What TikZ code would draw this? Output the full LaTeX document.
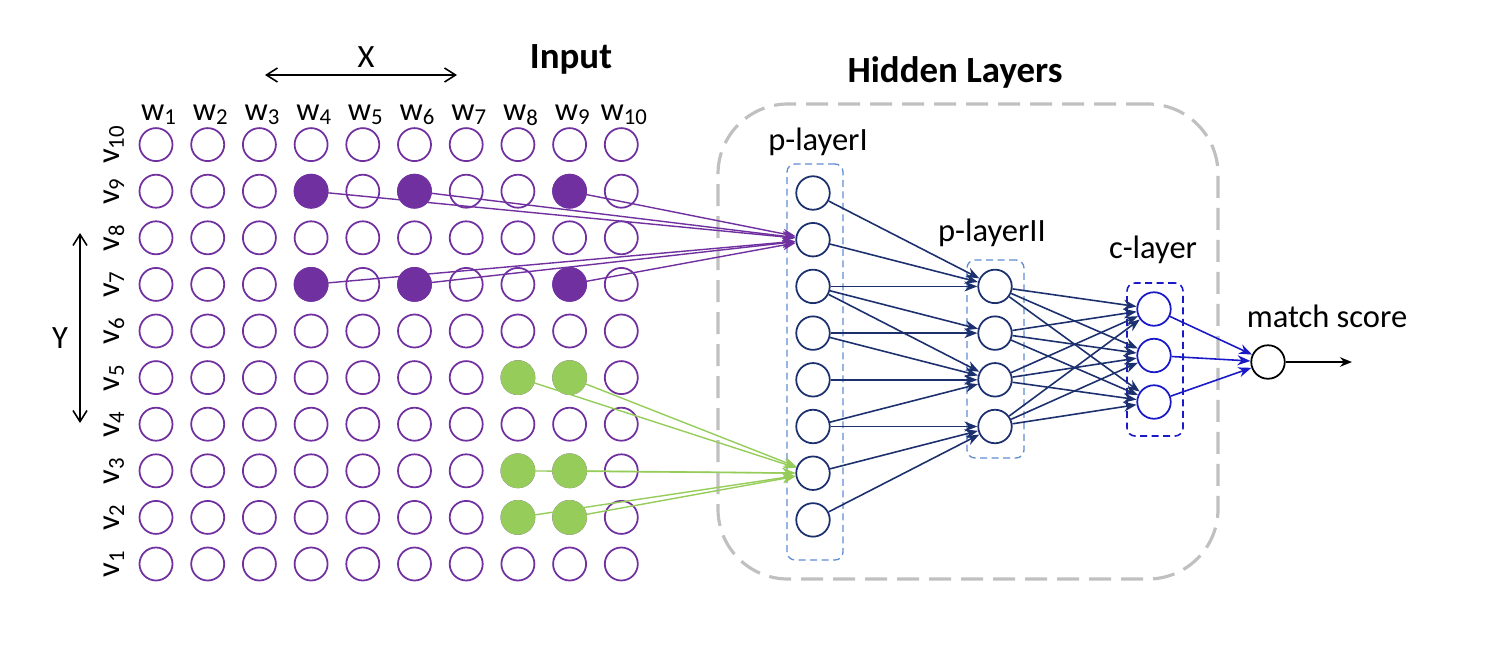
\documentclass[tikz,border=0pt]{standalone}
\usepackage{fontspec}
\setmainfont{Carlito}
\usetikzlibrary{positioning, arrows.meta, calc}

\definecolor{gridpurple}{RGB}{112,48,160}
\definecolor{hitgreen}{RGB}{150,205,90}
\definecolor{netnavy}{RGB}{28,48,110}
\definecolor{cblue}{RGB}{25,25,200}
\definecolor{boxblue}{RGB}{95,140,210}
\definecolor{hidgray}{RGB}{192,192,192}

\begin{document}
\begin{tikzpicture}[x=0.2mm, y=-0.2mm,
  font=\fontsize{18.5}{22}\selectfont,
  titlefont/.style={font=\fontsize{21}{24}\selectfont\bfseries},
  cell/.style={circle, draw=gridpurple, line width=1pt, minimum size=6.6mm, inner sep=0pt},
  hotcell/.style={cell, fill=gridpurple},
  greencell/.style={cell, draw=hitgreen, fill=hitgreen},
  unit/.style={circle, draw=netnavy, line width=1pt, minimum size=6.7mm, inner sep=0pt},
  cunit/.style={unit, draw=cblue},
  outunit/.style={unit, draw=black},
  layerbox/.style={draw=boxblue, line width=0.75pt, dash pattern=on 1.4mm off 0.9mm,
    rounded corners=1.6mm, inner sep=0pt},
  clayerbox/.style={layerbox, draw=cblue, line width=0.9pt},
  hidbox/.style={draw=hidgray, line width=1.8pt, dash pattern=on 4.4mm off 2mm,
    rounded corners=14mm, inner sep=0pt, minimum width=100mm, minimum height=95mm},
  axis/.style={{Straight Barb[length=2.2mm, width=2.8mm]}-{Straight Barb[length=2.2mm, width=2.8mm]}, line width=0.9pt},
  link/.style={-{Stealth[length=2.6mm, width=2mm]}, draw=netnavy, line width=0.9pt},
  plink/.style={link, draw=gridpurple, line width=0.8pt},
  glink/.style={link, draw=hitgreen, line width=0.8pt},
  clink/.style={link, draw=cblue},
  outlink/.style={-{Stealth[length=2.4mm, width=1.9mm]}, line width=0.9pt}
]
\useasboundingbox (0,0) rectangle (1500,650);

% input grid
\foreach \c in {1,...,10}
  \foreach \r in {1,...,10}
    \node[cell] (g-\c-\r) at ({156+(\c-1)*51.7}, {564-(\r-1)*46.6}) {};
\foreach \c/\r in {4/9, 6/9, 9/9, 4/7, 6/7, 9/7}
  \node[hotcell] at (g-\c-\r) {};
\foreach \c/\r in {8/5, 9/5, 8/3, 9/3, 8/2, 9/2}
  \node[greencell] at (g-\c-\r) {};

% word and row labels
\foreach \c in {1,...,10}
  \node[anchor=base] (w\c) at ({159+(\c-1)*51.7}, 120) {w\textsubscript{\c}};
\foreach \r in {1,...,10}
  \node[rotate=90] (v\r) at (114, {564-(\r-1)*46.6}) {v\textsubscript{\r}};

\node[titlefont, anchor=base] (input) at (571,68) {Input};

% X and Y extents
\coordinate (xl) at (265,75);
\coordinate (xr) at (457,75);
\draw[axis] (xl) -- (xr);
\node[anchor=base] (xlab) at (366,67) {X};
\coordinate (yt) at (80,233);
\coordinate (yb) at (80,423);
\draw[axis] (yt) -- (yb);
\node (ylab) at (60,338) {Y};

% hidden layers
\node[hidbox] (hidden) at (968,341.5) {};
\node[titlefont, anchor=base] (hidlab) at (955,82) {Hidden Layers};

\node[layerbox, minimum width=11.2mm, minimum height=79.2mm] (p1box) at (815,362) {};
\node[layerbox, minimum width=11.4mm, minimum height=39.6mm] (p2box) at (995.5,359) {};
\node[clayerbox, minimum width=11.2mm, minimum height=30.6mm] (cbox) at (1155,359.5) {};

\node[anchor=base] (p1lab) at (818,150) {p-layerI};
\node[anchor=base] (p2lab) at (992,241) {p-layerII};
\node[anchor=base] (clab) at (1153,258) {c-layer};

\foreach \k in {1,...,8}
  \node[unit] (p1-\k) at (813, {193+(\k-1)*46.7}) {};
\foreach \k in {1,...,4}
  \node[unit] (p2-\k) at (995, {286.4+(\k-1)*46.7}) {};
\foreach \k in {1,2,3}
  \node[cunit] (c-\k) at (1154, {309+(\k-1)*46.5}) {};

% output
\node[outunit] (match) at (1268,362) {};
\node[anchor=base] (mlab) at (1327,327) {match score};
\coordinate (out) at (1352,362);

% input to p-layerI
\foreach \c/\r in {4/9, 6/9, 9/9, 4/7, 6/7, 9/7}
  \draw[plink] (g-\c-\r) -- (p1-2);
\foreach \c/\r in {8/5, 9/5, 8/3, 9/3, 8/2, 9/2}
  \draw[glink] (g-\c-\r) -- (p1-7);

% p-layerI to p-layerII
\foreach \a/\b in {1/1, 2/1, 3/1, 3/2, 3/3, 4/2, 4/3, 5/3, 6/3, 6/4, 7/4, 8/4}
  \draw[link] (p1-\a) -- (p2-\b);

% p-layerII to c-layer, fully connected
\foreach \a in {1,...,4}
  \foreach \b in {1,2,3}
    \draw[link] (p2-\a) -- (c-\b);

\foreach \b in {1,2,3}
  \draw[clink] (c-\b) -- (match);
\draw[outlink] (match) -- (out);

\end{tikzpicture}
\end{document}
